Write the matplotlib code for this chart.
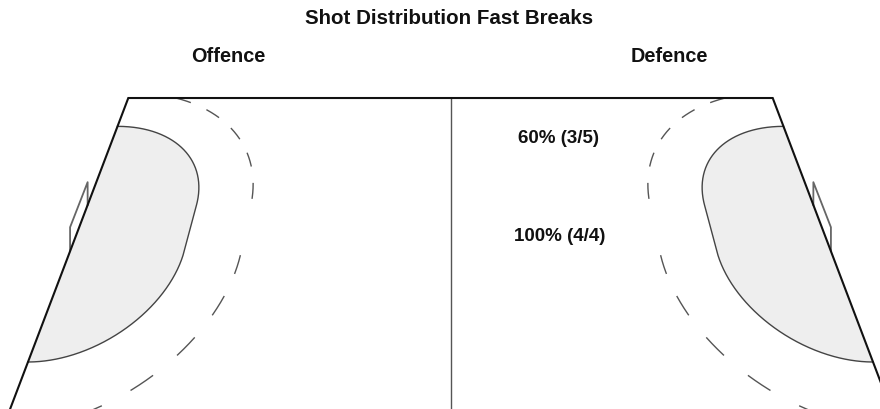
import numpy as np
import matplotlib.pyplot as plt

plt.rcParams['font.family'] = ['Liberation Sans', 'DejaVu Sans']

# fast break shots (defence half), goals scored / shots taken
zone_names = ['long', 'centre']
goals = [3, 4]
shots = [5, 4]
# where each label sits on the court, in metres
label_x = [26.4, 25.8]
label_y = [16.5, 9.4]

title = 'Shot Distribution Fast Breaks'
half_names = ['Offence', 'Defence']

# court in metres
COURT_L, COURT_W = 40.0, 20.0
GOAL_W = 3.0
AREA_R, FREE_R = 6.0, 9.0

# perspective, fitted by eye (pixels)
CX, TOP_V, TOP_HALF, SLOPE = 450.5, 98.0, 322.2, 0.38
VH, G, Z0 = -586.4, 43029.0, 42.87


def proj(x, y):
    x = np.asarray(x, float)
    y = np.asarray(y, float)
    v = VH + G / (Z0 + y)
    half = TOP_HALF + SLOPE * (v - TOP_V)
    u = CX + (x - COURT_L / 2) / (COURT_L / 2) * half
    return u, v


def area(r, right=False, n=300):
    top = COURT_W / 2 + GOAL_W / 2
    bot = COURT_W / 2 - GOAL_W / 2
    a_top = np.arcsin(min(1.0, (COURT_W - top) / r))
    a_bot = np.arcsin(min(1.0, bot / r))
    a1 = np.linspace(a_top, 0, n)
    a2 = np.linspace(0, -a_bot, n)
    xs = np.r_[r * np.cos(a1), r * np.cos(a2)]
    ys = np.r_[top + r * np.sin(a1), bot + r * np.sin(a2)]
    if right:
        xs = COURT_L - xs
    return xs, ys


def dashed(ax, xs, ys, on=1.05, off=1.35, **kw):
    s = np.r_[0, np.cumsum(np.hypot(np.diff(xs), np.diff(ys)))]
    mask = (s % (on + off)) < on
    idx = np.flatnonzero(np.diff(np.r_[0, mask.astype(int), 0]))
    for a, b in zip(idx[::2], idx[1::2]):
        u, v = proj(xs[a:b], ys[a:b])
        ax.plot(u, v, **kw)


fig = plt.figure(figsize=(8.8, 4.09), dpi=100)
ax = fig.add_axes([0, 0, 1, 1])
ax.set_xlim(0, 880)
ax.set_ylim(409, 0)
ax.axis('off')

for right in (False, True):
    # 6 m goal area
    xs, ys = area(AREA_R, right)
    u, v = proj(xs, ys)
    ax.fill(u, v, color='#eeeeee', lw=0, zorder=1)
    ax.plot(u, v, color='#444444', lw=1.0, zorder=2)
    # 9 m free throw line
    xs, ys = area(FREE_R, right, n=1500)
    dashed(ax, xs, ys, color='#555555', lw=1.0, zorder=2)
    # goal
    gx = COURT_L if right else 0.0
    gy = np.array([COURT_W / 2 + GOAL_W / 2, COURT_W / 2 - GOAL_W / 2])
    bu, bv = proj([gx, gx], gy)
    h = 0.063 * (TOP_HALF + SLOPE * (bv - TOP_V))
    ax.plot([bu[0], bu[0], bu[1], bu[1]], [bv[0], bv[0] - h[0], bv[1] - h[1], bv[1]],
            color='#666666', lw=1.3, zorder=3)

# centre line
u, v = proj([COURT_L / 2, COURT_L / 2], [0, COURT_W])
ax.plot(u, v, color='#555555', lw=1.0, zorder=3)

# outline
u, v = proj([0, 0, COURT_L, COURT_L, 0], [0, COURT_W, COURT_W, 0, 0])
ax.plot(u, v, color='#111111', lw=1.5, zorder=4, solid_joinstyle='miter')

for g, s, x, y in zip(goals, shots, label_x, label_y):
    u, v = proj(x, y)
    ax.text(u, v, f'{round(100 * g / s)}% ({g}/{s})', ha='center', va='center',
            fontsize=13.5, fontweight='bold', color='#111111', zorder=5)

fig.text(0.510, 0.954, title, ha='center', va='center', fontsize=14.75, fontweight='bold', color='#111111')
for name, fx in zip(half_names, [0.259, 0.761]):
    fig.text(fx, 0.861, name, ha='center', va='center', fontsize=14.3, fontweight='bold', color='#111111')

fig.savefig('out.png', dpi=100)
